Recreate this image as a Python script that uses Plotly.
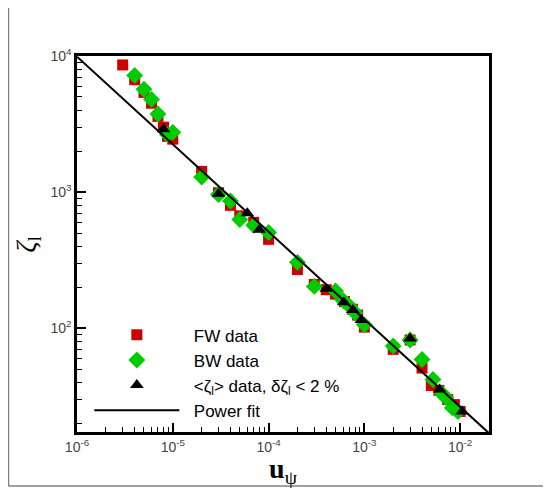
import plotly.graph_objects as go
import numpy as np

# ---- data ----
fw_x = [3e-6, 4e-6, 5e-6, 6e-6, 7e-6, 8e-6, 8.8e-6, 1e-5, 2e-5, 3e-5, 4e-5, 5e-5, 7e-5,
        1e-4, 2e-4, 3e-4, 4e-4, 5e-4, 6.2e-4, 7.5e-4, 8.5e-4, 1e-3, 2e-3, 3e-3, 4e-3,
        5e-3, 6e-3, 7.4e-3, 8.7e-3, 1e-2]
fw_y = [8600, 6700, 5400, 4500, 3600, 3000, 2570, 2450, 1420, 990, 800, 670, 600,
        450, 270, 210, 192, 178, 157, 138, 125, 102, 70, 82, 51,
        38, 35, 30, 27.5, 24.5]

bw_x = [4e-6, 5e-6, 6e-6, 7e-6, 8.8e-6, 1e-5, 2e-5, 3e-5, 4e-5, 5e-5, 7e-5,
        1e-4, 2e-4, 3e-4, 5e-4, 6e-4, 7e-4, 8e-4, 1e-3, 2e-3, 3e-3, 4e-3,
        5.2e-3, 6.5e-3, 7.1e-3, 8.3e-3, 9.5e-3]
bw_y = [7200, 5700, 4800, 3750, 2650, 2750, 1290, 960, 860, 630, 570,
        505, 305, 203, 188, 160, 145, 130, 106, 74, 82, 59,
        42, 33, 31, 26, 24.5]

avg_x = [8e-6, 3e-5, 6e-5, 8e-5, 4e-4, 6.1e-4, 7.6e-4, 9.3e-4, 3e-3, 6.1e-3, 1.05e-2]
avg_y = [2900, 975, 700, 530, 195, 155, 136, 115, 84, 35.5, 24.5]

fit_x = [1e-6, 2e-2]
fit_coef = 1.37
fit_exp = -0.643
fit_y = [fit_coef * x ** fit_exp for x in fit_x]

x_major = [1e-6, 1e-5, 1e-4, 1e-3, 1e-2]
x_labels = ["10<sup>-6</sup>", "10<sup>-5</sup>", "10<sup>-4</sup>", "10<sup>-3</sup>", "10<sup>-2</sup>"]
y_major = [1e2, 1e3, 1e4]
y_labels = ["10<sup>2</sup>", "10<sup>3</sup>", "10<sup>4</sup>"]

x_minor = [m * 10.0 ** e for e in range(-6, -1) for m in range(2, 10) if m * 10.0 ** e <= 2e-2]
y_minor = [m * 10.0 ** e for e in range(1, 4) for m in range(2, 10) if m * 10.0 ** e >= 17.3]

pad = "&nbsp;&nbsp;"
fig = go.Figure()
fig.add_trace(go.Scatter(x=fw_x, y=fw_y, mode="markers", name=pad + "FW data",
                         marker=dict(symbol="square", size=11, color="#CC0000")))
fig.add_trace(go.Scatter(x=bw_x, y=bw_y, mode="markers", name=pad + "BW data",
                         marker=dict(symbol="diamond", size=13, color="#00CC00")))
fig.add_trace(go.Scatter(x=avg_x, y=avg_y, mode="markers",
                         name=pad + "&lt;ζ<sub>l</sub>&gt; data, δζ<sub>l</sub> &lt; 2 %",
                         marker=dict(symbol="triangle-up", size=12, color="black")))
fig.add_trace(go.Scatter(x=fit_x, y=fit_y, mode="lines", name=pad + "Power fit",
                         line=dict(color="black", width=2)))

tickfont = dict(family="Liberation Sans, Arial", size=14, color="#444444")
fig.update_xaxes(type="log", range=[-6, np.log10(2e-2)], showline=True, linecolor="black",
                 linewidth=2.5, mirror=True, showgrid=False, zeroline=False, automargin=False,
                 tickmode="array", tickvals=x_major, ticktext=x_labels,
                 ticks="inside", ticklen=9, tickwidth=2, tickcolor="black", tickfont=tickfont,
                 minor=dict(tickmode="array", tickvals=x_minor, ticks="inside", ticklen=5,
                            tickwidth=1, tickcolor="black", showgrid=False),
                 title=dict(text="<b>u</b><sub>ψ</sub>", standoff=1,
                            font=dict(family="Liberation Serif, Times New Roman", size=28, color="black")))
fig.update_yaxes(type="log", range=[np.log10(17.3), 4], showline=True, linecolor="black",
                 linewidth=2.5, mirror=True, showgrid=False, zeroline=False, automargin=False,
                 tickmode="array", tickvals=y_major, ticktext=y_labels,
                 ticks="inside", ticklen=9, tickwidth=2, tickcolor="black", tickfont=tickfont,
                 minor=dict(tickmode="array", tickvals=y_minor, ticks="inside", ticklen=5,
                            tickwidth=1, tickcolor="black", showgrid=False))

# y-axis title placed as an annotation for precise position
fig.add_annotation(text="<i>ζ</i><sub>l</sub>", xref="paper", yref="paper", x=-0.122, y=0.5,
                   xanchor="center", yanchor="middle", textangle=-90, showarrow=False,
                   font=dict(family="Liberation Serif, Times New Roman", size=28, color="black"))

# page frame lines (left and bottom)
fig.add_shape(type="line", xref="paper", yref="paper", x0=-0.1663, x1=-0.1663, y0=-0.1436, y1=1.2,
              line=dict(color="#808080", width=1.5))
fig.add_shape(type="line", xref="paper", yref="paper", x0=-0.1663, x1=1.2, y0=-0.1436, y1=-0.1436,
              line=dict(color="#808080", width=1.5))

fig.update_layout(width=543, height=480, margin=dict(l=69, r=62, t=48, b=56),
                  paper_bgcolor="white", plot_bgcolor="white", showlegend=True,
                  legend=dict(x=0.03, y=0.305, xanchor="left", yanchor="top",
                              bgcolor="rgba(0,0,0,0)", itemwidth=85, tracegroupgap=0,
                              font=dict(family="Liberation Sans, Arial", size=17, color="black")))

fig.write_html("out.html")
